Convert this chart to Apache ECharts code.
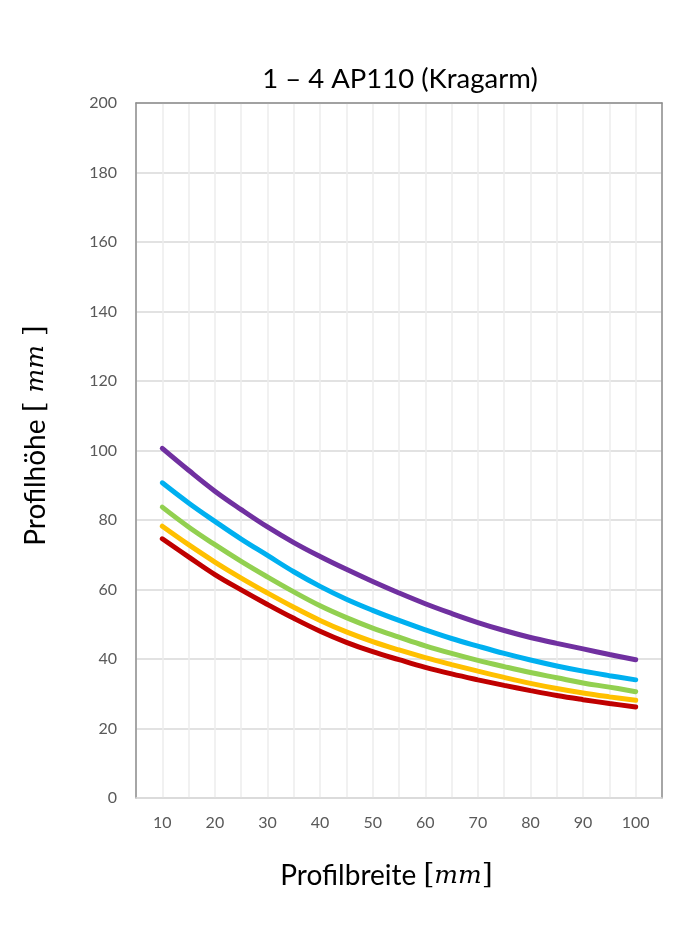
<!DOCTYPE html>
<html>
<head>
<meta charset="utf-8">
<script src="https://cdn.jsdelivr.net/npm/echarts@6/dist/echarts.min.js"></script>
<style>
  html, body { margin: 0; padding: 0; background: #fff; }
  #chart { width: 689px; height: 941px; }
</style>
</head>
<body>
<div id="chart"></div>
<script>
// Profilbreite (mm)
var breite = [10, 15, 20, 25, 30, 35, 40, 45, 50, 55, 60, 65, 70, 75, 80, 85, 90, 95, 100];

// Profilhöhe (mm)
var lila = [100.6, 94.3, 88.3, 83.0, 78.0, 73.5, 69.5, 65.8, 62.3, 59.0, 55.9, 53.1, 50.5, 48.2, 46.2, 44.5, 42.9, 41.3, 39.8];
var blau = [90.7, 84.9, 79.6, 74.5, 69.8, 65.1, 60.9, 57.2, 54.0, 51.1, 48.4, 45.9, 43.7, 41.6, 39.7, 38.0, 36.5, 35.2, 34.0];
var gruen = [83.7, 78.0, 72.9, 68.1, 63.6, 59.3, 55.3, 51.9, 48.9, 46.3, 43.8, 41.6, 39.6, 37.8, 36.1, 34.6, 33.1, 31.9, 30.6];
var gelb = [78.2, 72.9, 67.9, 63.3, 59.0, 54.9, 51.1, 47.8, 45.0, 42.6, 40.4, 38.4, 36.5, 34.7, 33.0, 31.5, 30.2, 29.1, 28.1];
var rot = [74.6, 69.4, 64.3, 59.9, 55.7, 51.7, 48.0, 44.8, 42.1, 39.8, 37.6, 35.7, 34.0, 32.4, 30.9, 29.5, 28.3, 27.2, 26.2];

var xTicks = [10, 20, 30, 40, 50, 60, 70, 80, 90, 100];

function pairs(ys) {
    return breite.map(function (x, i) { return [x, ys[i]]; });
}

function line(name, ys, color) {
    return {
        name: name,
        type: 'line',
        data: pairs(ys),
        smooth: 0.4,
        showSymbol: false,
        lineStyle: { color: color, width: 5, cap: 'round' },
        itemStyle: { color: color },
        z: 5
    };
}

var chart = echarts.init(document.getElementById('chart'));
var serifM = { fontFamily: 'DejaVu Serif', fontStyle: 'italic', fontSize: 25, color: '#000' };
var serifB = { fontFamily: 'DejaVu Serif', fontSize: 28, color: '#000' };

chart.setOption({
    animation: false,
    backgroundColor: '#fff',
    title: {
        text: '1 – 4 AP110 (Kragarm)',
        left: 395,
        top: 60,
        textAlign: 'center',
        textStyle: { fontFamily: 'Lato', fontSize: 27.5, fontWeight: 'normal', color: '#000' }
    },
    grid: { left: 136, right: 27, top: 103, bottom: 143 },
    xAxis: [{
        type: 'value',
        min: 5,
        max: 105,
        interval: 5,
        name: 'Profilbreite {b|[}{m|mm}{b|]}',
        nameLocation: 'middle',
        nameGap: 64,
        nameTextStyle: {
            fontFamily: 'Lato', fontSize: 28, color: '#000', padding: [0, 25, 0, 0],
            rich: { m: serifM, b: serifB }
        },
        axisLine: { show: true, lineStyle: { color: '#d9d9d9', width: 1.5 } },
        axisTick: { show: false },
        axisLabel: {
            margin: 17,
            fontFamily: 'Lato', fontSize: 16, color: '#595959',
            formatter: function (v) { return xTicks.indexOf(v) >= 0 ? String(v) : ''; }
        },
        splitLine: { show: true, lineStyle: { color: '#ededed', width: 1.5 } }
    }, {
        type: 'value',
        position: 'top',
        min: 5,
        max: 105,
        axisLine: { show: true, onZero: false, lineStyle: { color: '#8c8c8c', width: 1.5 } },
        axisTick: { show: false },
        axisLabel: { show: false },
        splitLine: { show: false }
    }],
    yAxis: [{
        type: 'value',
        min: 0,
        max: 200,
        interval: 20,
        name: 'Profilhöhe {b|[ }{m|mm}{b| ]}',
        nameLocation: 'middle',
        nameGap: 86,
        nameTextStyle: {
            fontFamily: 'Lato', fontSize: 28, color: '#000', padding: [0, 0, 0, 30],
            rich: { m: serifM, b: serifB }
        },
        axisLine: { show: true, lineStyle: { color: '#8c8c8c', width: 1.5 } },
        axisTick: { show: false },
        axisLabel: { margin: 19, fontFamily: 'Lato', fontSize: 16, color: '#595959' },
        splitLine: { show: true, lineStyle: { color: '#d9d9d9', width: 1.5 } }
    }, {
        type: 'value',
        position: 'right',
        min: 0,
        max: 200,
        axisLine: { show: true, onZero: false, lineStyle: { color: '#8c8c8c', width: 1.5 } },
        axisTick: { show: false },
        axisLabel: { show: false },
        splitLine: { show: false }
    }],
    series: [
        line('Reihe 1', lila, '#7030A0'),
        line('Reihe 2', blau, '#00B0F0'),
        line('Reihe 3', gruen, '#92D050'),
        line('Reihe 4', gelb, '#FFC000'),
        line('Reihe 5', rot, '#C00000')
    ]
});
</script>
</body>
</html>
